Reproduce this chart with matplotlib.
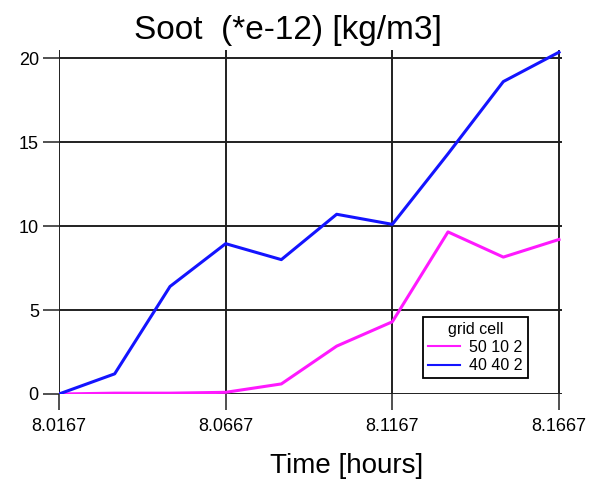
import matplotlib
matplotlib.use("Agg")
import matplotlib.pyplot as plt

plt.rcParams['font.family'] = ['Liberation Sans', 'DejaVu Sans']

# time steps, one per minute
time_hours = [8.0167, 8.0334, 8.0500, 8.0667, 8.0834, 8.1000,
              8.1167, 8.1334, 8.1500, 8.1667]
soot_50_10_2 = [0.0, 0.05, 0.05, 0.1, 0.6, 2.85, 4.3, 9.65, 8.15, 9.2]
soot_40_40_2 = [0.0, 1.2, 6.4, 8.95, 8.0, 10.7, 10.1, 14.3, 18.6, 20.35]

x_ticks = [8.0167, 8.0667, 8.1167, 8.1667]
x_tick_labels = ['8.0167', '8.0667', '8.1167', '8.1667']
y_ticks = [0, 5, 10, 15, 20]

W, H = 607, 487
fig = plt.figure(figsize=(W / 100, H / 100), dpi=100)
ax = fig.add_axes([59 / W, (H - 394) / H, (562 - 59) / W, (394 - 50) / H])

ax.plot(time_hours, soot_50_10_2, color='#ff19ff', lw=2.2, label='50 10 2', zorder=3)
ax.plot(time_hours, soot_40_40_2, color='#1414ff', lw=2.2, label='40 40 2', zorder=3)

ax.set_xlim(8.0167, 8.1676)
ax.set_ylim(0, 20.48)
ax.set_xticks(x_ticks)
ax.set_xticklabels(x_tick_labels)
ax.set_yticks(y_ticks)

for s in ax.spines.values():
    s.set_visible(False)
ax.grid(True, color='#202020', lw=1.4)
ax.set_axisbelow(True)
ax.tick_params(axis='both', direction='out', length=11.5, width=1.1,
               color='#202020', labelsize=13)
ax.tick_params(axis='x', pad=6)
ax.tick_params(axis='y', pad=3)

leg = ax.legend(title='grid cell', loc='upper left', bbox_to_anchor=(0.724, 0.224),
                borderaxespad=0, fontsize=11.5, title_fontsize=11.5,
                handlelength=2.0, handletextpad=0.6, fancybox=False,
                framealpha=1, edgecolor='black', borderpad=0.3,
                labelspacing=0.2)
leg.get_frame().set_linewidth(1.3)
for line in leg.get_lines():
    line.set_linewidth(1.5)

fig.text(288 / W, 1 - 31 / H, 'Soot  (*e-12) [kg/m3]', ha='center', va='center',
         fontsize=24)
fig.text(347 / W, 1 - 466 / H, 'Time [hours]', ha='center', va='center',
         fontsize=20)

fig.savefig('out.png', dpi=100)
